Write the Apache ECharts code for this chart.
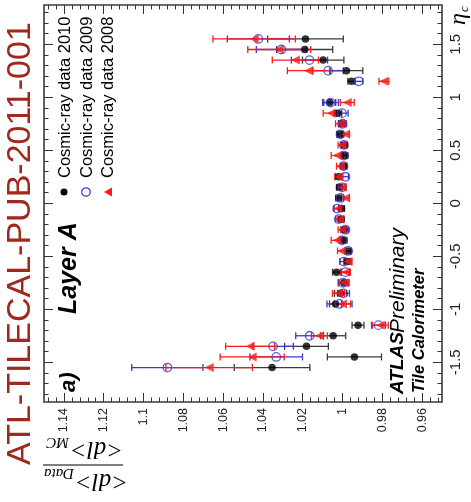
<!DOCTYPE html>
<html>
<head>
<meta charset="utf-8">
<script src="https://cdn.jsdelivr.net/npm/echarts@6/dist/echarts.min.js"></script>
<style>
  html, body { margin: 0; padding: 0; background: #fff; }
  #main { width: 471px; height: 502px; }
</style>
</head>
<body>
<div id="main"></div>
<script>
// eta bin centres (layer A cells)
const eta = [-1.55, -1.45, -1.35, -1.25, -1.15,
  -0.95, -0.85, -0.75, -0.65, -0.55, -0.45, -0.35, -0.25, -0.15, -0.05,
  0.05, 0.15, 0.25, 0.35, 0.45, 0.55, 0.65, 0.75, 0.85, 0.95,
  1.15, 1.25, 1.35, 1.45, 1.55];

// <dl>Data / <dl>MC
const data2010 = [1.0354, 0.994, 1.0181, 1.0047, 0.9922,
  1.0035, 1.001, 0.9993, 1.003, 0.9976, 0.9973, 0.9993, 0.9993, 1.0007, 1.0005,
  1.0019, 1.0015, 1.0019, 0.9993, 0.9988, 0.999, 1.0014, 1.0005, 1.0024, 1.0064,
  0.9955, 0.998, 1.0097, 1.019, 1.0186];
const err2010 = [0.019, 0.0136, 0.011, 0.0063, 0.003,
  0.003, 0.003, 0.0025, 0.002, 0.0015, 0.0015, 0.0015, 0.0015, 0.0015, 0.0015,
  0.0015, 0.0015, 0.0015, 0.0015, 0.0015, 0.0015, 0.0015, 0.0015, 0.002, 0.003,
  0.0018, 0.0082, 0.0104, 0.0141, 0.019];

const data2009 = [1.088, 1.0333, 1.0349, 1.0165, 0.9819,
  1.0015, 0.9995, 0.9997, 0.9985, 0.9993, 0.9971, 1.0002, 0.9985, 1.0019, 1.0027,
  1.001, 1.0002, 0.9985, 0.9995, 0.9993, 0.9993, 1.001, 1.0, 1.0002, 1.006,
  0.9918, 1.0072, 1.0166, 1.0307, 1.0423];
const err2009 = [0.0179, 0.0132, 0.0102, 0.007, 0.0035,
  0.0063, 0.003, 0.0025, 0.002, 0.002, 0.0015, 0.0015, 0.0015, 0.0015, 0.0015,
  0.0015, 0.0015, 0.0015, 0.0015, 0.0015, 0.0015, 0.0015, 0.002, 0.003, 0.004,
  0.002, 0.0076, 0.0091, 0.0126, 0.0156];

const data2008 = [1.067, 1.0454, 1.0464, 1.0116, 0.981,
  1.0, 1.002, 0.9993, 0.9985, 0.9973, 1.0005, 1.0027, 1.0002, 1.0014, 1.0024,
  0.9985, 1.0002, 1.0019, 1.001, 1.0027, 1.0002, 0.9985, 1.001, 1.0057, 0.9976,
  0.9792, 1.0171, 1.0237, 1.0318, 1.0444];
const err2008 = [0.0217, 0.0161, 0.0123, 0.004, 0.004,
  0.004, 0.003, 0.0025, 0.0025, 0.002, 0.002, 0.003, 0.002, 0.002, 0.002,
  0.002, 0.002, 0.002, 0.002, 0.003, 0.002, 0.002, 0.0025, 0.004, 0.0035,
  0.0025, 0.0106, 0.0116, 0.0158, 0.0207];

const ratioLabels = [0.96, 0.98, 1, 1.02, 1.04, 1.06, 1.08, 1.1, 1.12, 1.14];
const etaLabels = [-1.5, -1, -0.5, 0, 0.5, 1, 1.5];

const legendNames = ['Cosmic-ray data 2010', 'Cosmic-ray data 2009', 'Cosmic-ray data 2008'];

const C_BLACK = '#000000', C_BLUE = '#3a3acc', C_RED = '#ff1a1a';

// minor tick positions
const ratioMinor = [];
for (let i = 238; i <= 287; i++) ratioMinor.push(+(i * 0.004).toFixed(3));
const etaMinor = [];
for (let i = -18; i <= 18; i++) etaMinor.push(+(i * 0.1).toFixed(1));

const X_MIN = 0.95, X_MAX = 1.15, Y_MIN = -1.875, Y_MAX = 1.87;
const gridBox = { left: 44, right: 29, top: 5, bottom: 100 };

function xAx(grid, pos, ticks, len, withLabels) {
  return {
    type: 'value', gridIndex: grid, position: pos,
    min: X_MIN, max: X_MAX, inverse: true,
    axisLine: { show: false, onZero: false }, splitLine: { show: false },
    axisTick: { show: true, inside: true, length: len, customValues: ticks,
      lineStyle: { color: '#333', width: 1 } },
    axisLabel: withLabels ? {
      show: true, customValues: ratioLabels, rotate: 90, margin: 6,
      fontFamily: 'Liberation Sans', fontSize: 12.5, color: '#222',
      formatter: v => String(+(+v).toFixed(2))
    } : { show: false }
  };
}
function yAx(grid, pos, ticks, len, withLabels) {
  return {
    type: 'value', gridIndex: grid, position: pos,
    min: Y_MIN, max: Y_MAX,
    axisLine: { show: false, onZero: false }, splitLine: { show: false },
    axisTick: { show: true, inside: true, length: len, customValues: ticks,
      lineStyle: { color: '#333', width: 1 } },
    axisLabel: withLabels ? {
      show: true, customValues: etaLabels, rotate: 90, margin: 6,
      fontFamily: 'Liberation Sans', fontSize: 15, color: '#222',
      formatter: v => String(+(+v).toFixed(1))
    } : { show: false }
  };
}

function errSeries(name, vals, errs, color) {
  return {
    type: 'custom', name: name, coordinateSystem: 'cartesian2d',
    xAxisIndex: 0, yAxisIndex: 0, silent: true, z: 2,
    encode: { x: 0, y: 1 },
    data: eta.map((e, i) => [vals[i], e, errs[i]]),
    renderItem: (params, api) => {
      const v = api.value(0), e = api.value(1), d = api.value(2);
      const a = api.coord([v - d, e]);
      const b = api.coord([v + d, e]);
      const st = { stroke: color, lineWidth: 1.3 };
      const cap = 3.5;
      return {
        type: 'group', children: [
          { type: 'line', shape: { x1: a[0], y1: a[1], x2: b[0], y2: b[1] }, style: st },
          { type: 'line', shape: { x1: a[0], y1: a[1] - cap, x2: a[0], y2: a[1] + cap }, style: st },
          { type: 'line', shape: { x1: b[0], y1: b[1] - cap, x2: b[0], y2: b[1] + cap }, style: st }
        ]
      };
    }
  };
}

function markSeries(name, vals, sym) {
  return Object.assign({
    type: 'scatter', name: name, xAxisIndex: 0, yAxisIndex: 0, z: 3, silent: true,
    data: eta.map((e, i) => [vals[i], e])
  }, sym);
}

const rot = Math.PI / 2;
function vtext(x, y, text, font, fill, extra) {
  return Object.assign({
    type: 'text', x: x, y: y, rotation: rot,
    style: { text: text, font: font, fill: fill || '#000',
      textAlign: 'left', textVerticalAlign: 'middle', align: 'left', verticalAlign: 'middle' }
  }, extra || {});
}

const chart = echarts.init(document.getElementById('main'), null, { renderer: 'canvas' });
chart.setOption({
  animation: false,
  backgroundColor: '#fff',
  grid: [
    Object.assign({ show: true, borderColor: '#3a3a3a', borderWidth: 1.6, backgroundColor: 'transparent' }, gridBox),
    Object.assign({}, gridBox), Object.assign({}, gridBox), Object.assign({}, gridBox)
  ],
  xAxis: [
    xAx(0, 'bottom', ratioLabels, 9, true),
    xAx(1, 'top', ratioLabels, 9, false),
    xAx(2, 'bottom', ratioMinor, 4.5, false),
    xAx(3, 'top', ratioMinor, 4.5, false)
  ],
  yAxis: [
    yAx(0, 'right', etaLabels, 9, true),
    yAx(1, 'left', etaLabels, 9, false),
    yAx(2, 'right', etaMinor, 4.5, false),
    yAx(3, 'left', etaMinor, 4.5, false)
  ],
  series: [
    errSeries('e2010', data2010, err2010, '#3a3a3a'),
    errSeries('e2009', data2009, err2009, C_BLUE),
    errSeries('e2008', data2008, err2008, C_RED),
    markSeries(legendNames[0], data2010, { symbol: 'circle', symbolSize: 7.5,
      itemStyle: { color: C_BLACK } }),
    markSeries(legendNames[1], data2009, { symbol: 'circle', symbolSize: 8.5,
      itemStyle: { color: 'rgba(255,255,255,0)', borderColor: C_BLUE, borderWidth: 1.3 } }),
    markSeries(legendNames[2], data2008, { symbol: 'triangle', symbolSize: 9, symbolRotate: 90,
      itemStyle: { color: C_RED } })
  ],
  graphic: [
    // report number watermark
    vtext(21, 465, 'ATL-TILECAL-PUB-2011-001', '34px "Liberation Sans"', '#a0281e'),
    // legend
    { type: 'circle', shape: { cx: 64, cy: 192, r: 3.5 }, style: { fill: C_BLACK } },
    { type: 'circle', shape: { cx: 86, cy: 192, r: 4.2 }, style: { fill: 'none', stroke: C_BLUE, lineWidth: 1.3 } },
    { type: 'polygon', shape: { points: [[104, 192], [112, 187.5], [112, 196.5]] }, style: { fill: C_RED } },
    vtext(65, 178, legendNames[0], '16.5px "Liberation Sans"'),
    vtext(87, 178, legendNames[1], '16.5px "Liberation Sans"'),
    vtext(108, 178, legendNames[2], '16.5px "Liberation Sans"'),
    // labels
    vtext(69, 314, 'Layer A', 'italic bold 25px "Liberation Sans"'),
    vtext(69, 392, 'a)', 'italic bold 22px "Liberation Sans"'),
    vtext(398, 394, 'ATLAS', 'italic bold 19px "Liberation Sans"'),
    vtext(398, 333, 'Preliminary', 'italic 21px "Liberation Sans"'),
    vtext(419, 393, 'Tile Calorimeter', 'italic bold 16.5px "Liberation Sans"'),
    // eta axis title
    {
      type: 'group', x: 459, y: 25, rotation: rot,
      children: [
        { type: 'text', x: 0, y: 0, style: { text: 'η', font: 'italic 24px "Liberation Serif"', fill: '#000',
          align: 'left', verticalAlign: 'middle', textAlign: 'left', textVerticalAlign: 'middle' } },
        { type: 'text', x: 13, y: 6, style: { text: 'c', font: 'italic 13px "Liberation Serif"', fill: '#000',
          align: 'left', verticalAlign: 'middle', textAlign: 'left', textVerticalAlign: 'middle' } }
      ]
    },
    // ratio axis title (upside down, as in the rotated figure)
    {
      type: 'group', x: 83, y: 465, rotation: Math.PI,
      children: [
        { type: 'line', shape: { x1: -40, y1: 0, x2: 40, y2: 0 }, style: { stroke: '#000', lineWidth: 1 } },
        { type: 'text', x: 8, y: -16, style: { text: '<dl>', font: 'italic 25px "Liberation Serif"', fill: '#000',
          align: 'right', verticalAlign: 'middle', textAlign: 'right', textVerticalAlign: 'middle' } },
        { type: 'text', x: 9, y: -8, style: { text: 'Data', font: 'italic 15px "Liberation Serif"', fill: '#000',
          align: 'left', verticalAlign: 'middle', textAlign: 'left', textVerticalAlign: 'middle' } },
        { type: 'text', x: 13, y: 16, style: { text: '<dl>', font: 'italic 25px "Liberation Serif"', fill: '#000',
          align: 'right', verticalAlign: 'middle', textAlign: 'right', textVerticalAlign: 'middle' } },
        { type: 'text', x: 14, y: 23, style: { text: 'MC', font: 'italic 15px "Liberation Serif"', fill: '#000',
          align: 'left', verticalAlign: 'middle', textAlign: 'left', textVerticalAlign: 'middle' } }
      ]
    }
  ]
});
</script>
</body>
</html>
